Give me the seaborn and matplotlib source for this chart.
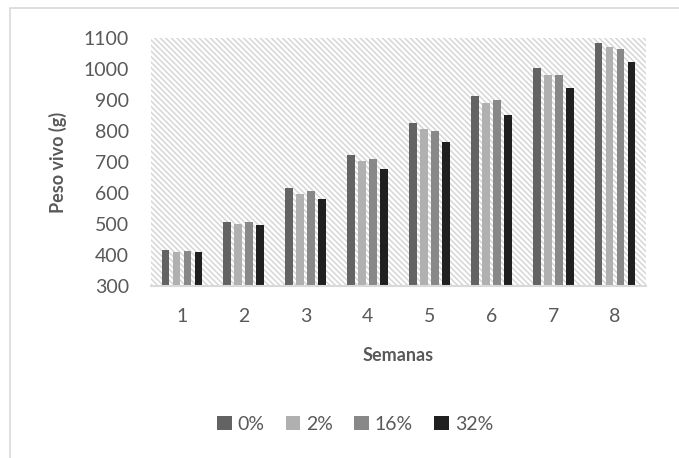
import numpy as np
import pandas as pd
import matplotlib
matplotlib.use('Agg')
import matplotlib.pyplot as plt
import seaborn as sns
from matplotlib.patches import Rectangle

sns.set_style('white')
plt.rcParams['font.family'] = ['Lato', 'DejaVu Sans']
plt.rcParams['hatch.color'] = '#d6d6d6'
plt.rcParams['hatch.linewidth'] = 1.1

semanas = ['1', '2', '3', '4', '5', '6', '7', '8']
niveis = ['0%', '2%', '16%', '32%']
peso_0 = [416, 506, 616, 722, 825, 912, 1003, 1084]
peso_2 = [409, 500, 597, 704, 807, 889, 980, 1072]
peso_16 = [412, 506, 606, 710, 800, 900, 982, 1063]
peso_32 = [410, 497, 582, 679, 763, 851, 939, 1022]
cores = ['#636363', '#b0b0b0', '#888888', '#202020']

df = pd.DataFrame({
    'semana': semanas * 4,
    'nivel': np.repeat(niveis, len(semanas)),
    'peso': peso_0 + peso_2 + peso_16 + peso_32,
})

fig = plt.figure(figsize=(6.79, 4.58), dpi=100)
ax = fig.add_axes([151/679, 1 - 286/458, 495/679, 248/458])

sns.barplot(data=df, x='semana', y='peso', hue='nivel', palette=cores,
            width=0.71, gap=0.3, ax=ax, saturation=1, edgecolor='none')

# fundo hachurado
ax.patch.set_facecolor('white')
ax.patch.set_hatch('\\\\\\\\\\\\')
ax.patch.set_edgecolor('#d6d6d6')
ax.patch.set_linewidth(0)

ax.set_ylim(300, 1100)
ax.set_yticks(range(300, 1101, 100))
ax.tick_params(axis='both', length=0, labelsize=14, labelcolor='#595959')
ax.tick_params(axis='y', pad=16)
ax.tick_params(axis='x', pad=16)
for s in ['top', 'right', 'left']:
    ax.spines[s].set_visible(False)
ax.spines['bottom'].set_color('#d9d9d9')
ax.spines['bottom'].set_linewidth(1.5)

ax.set_xlabel('Semanas', fontsize=13, fontweight='bold', color='#595959', labelpad=16)
ax.set_ylabel('Peso vivo (g)', fontsize=13, fontweight='bold', color='#595959', labelpad=12)

ax.legend(loc='center', bbox_to_anchor=(355/679, 1 - 424/458), bbox_transform=fig.transFigure,
          ncol=4, frameon=False, fontsize=14, labelcolor='#595959',
          handlelength=0.75, handleheight=0.75, handletextpad=0.3, columnspacing=1.1)

# borda do grafico
fig.patches.append(Rectangle((10/679, -0.1), 1.2, 1 - 8/458 + 0.1, transform=fig.transFigure,
                             fill=False, edgecolor='#d9d9d9', linewidth=1.2))

fig.savefig('out.png', dpi=100)
